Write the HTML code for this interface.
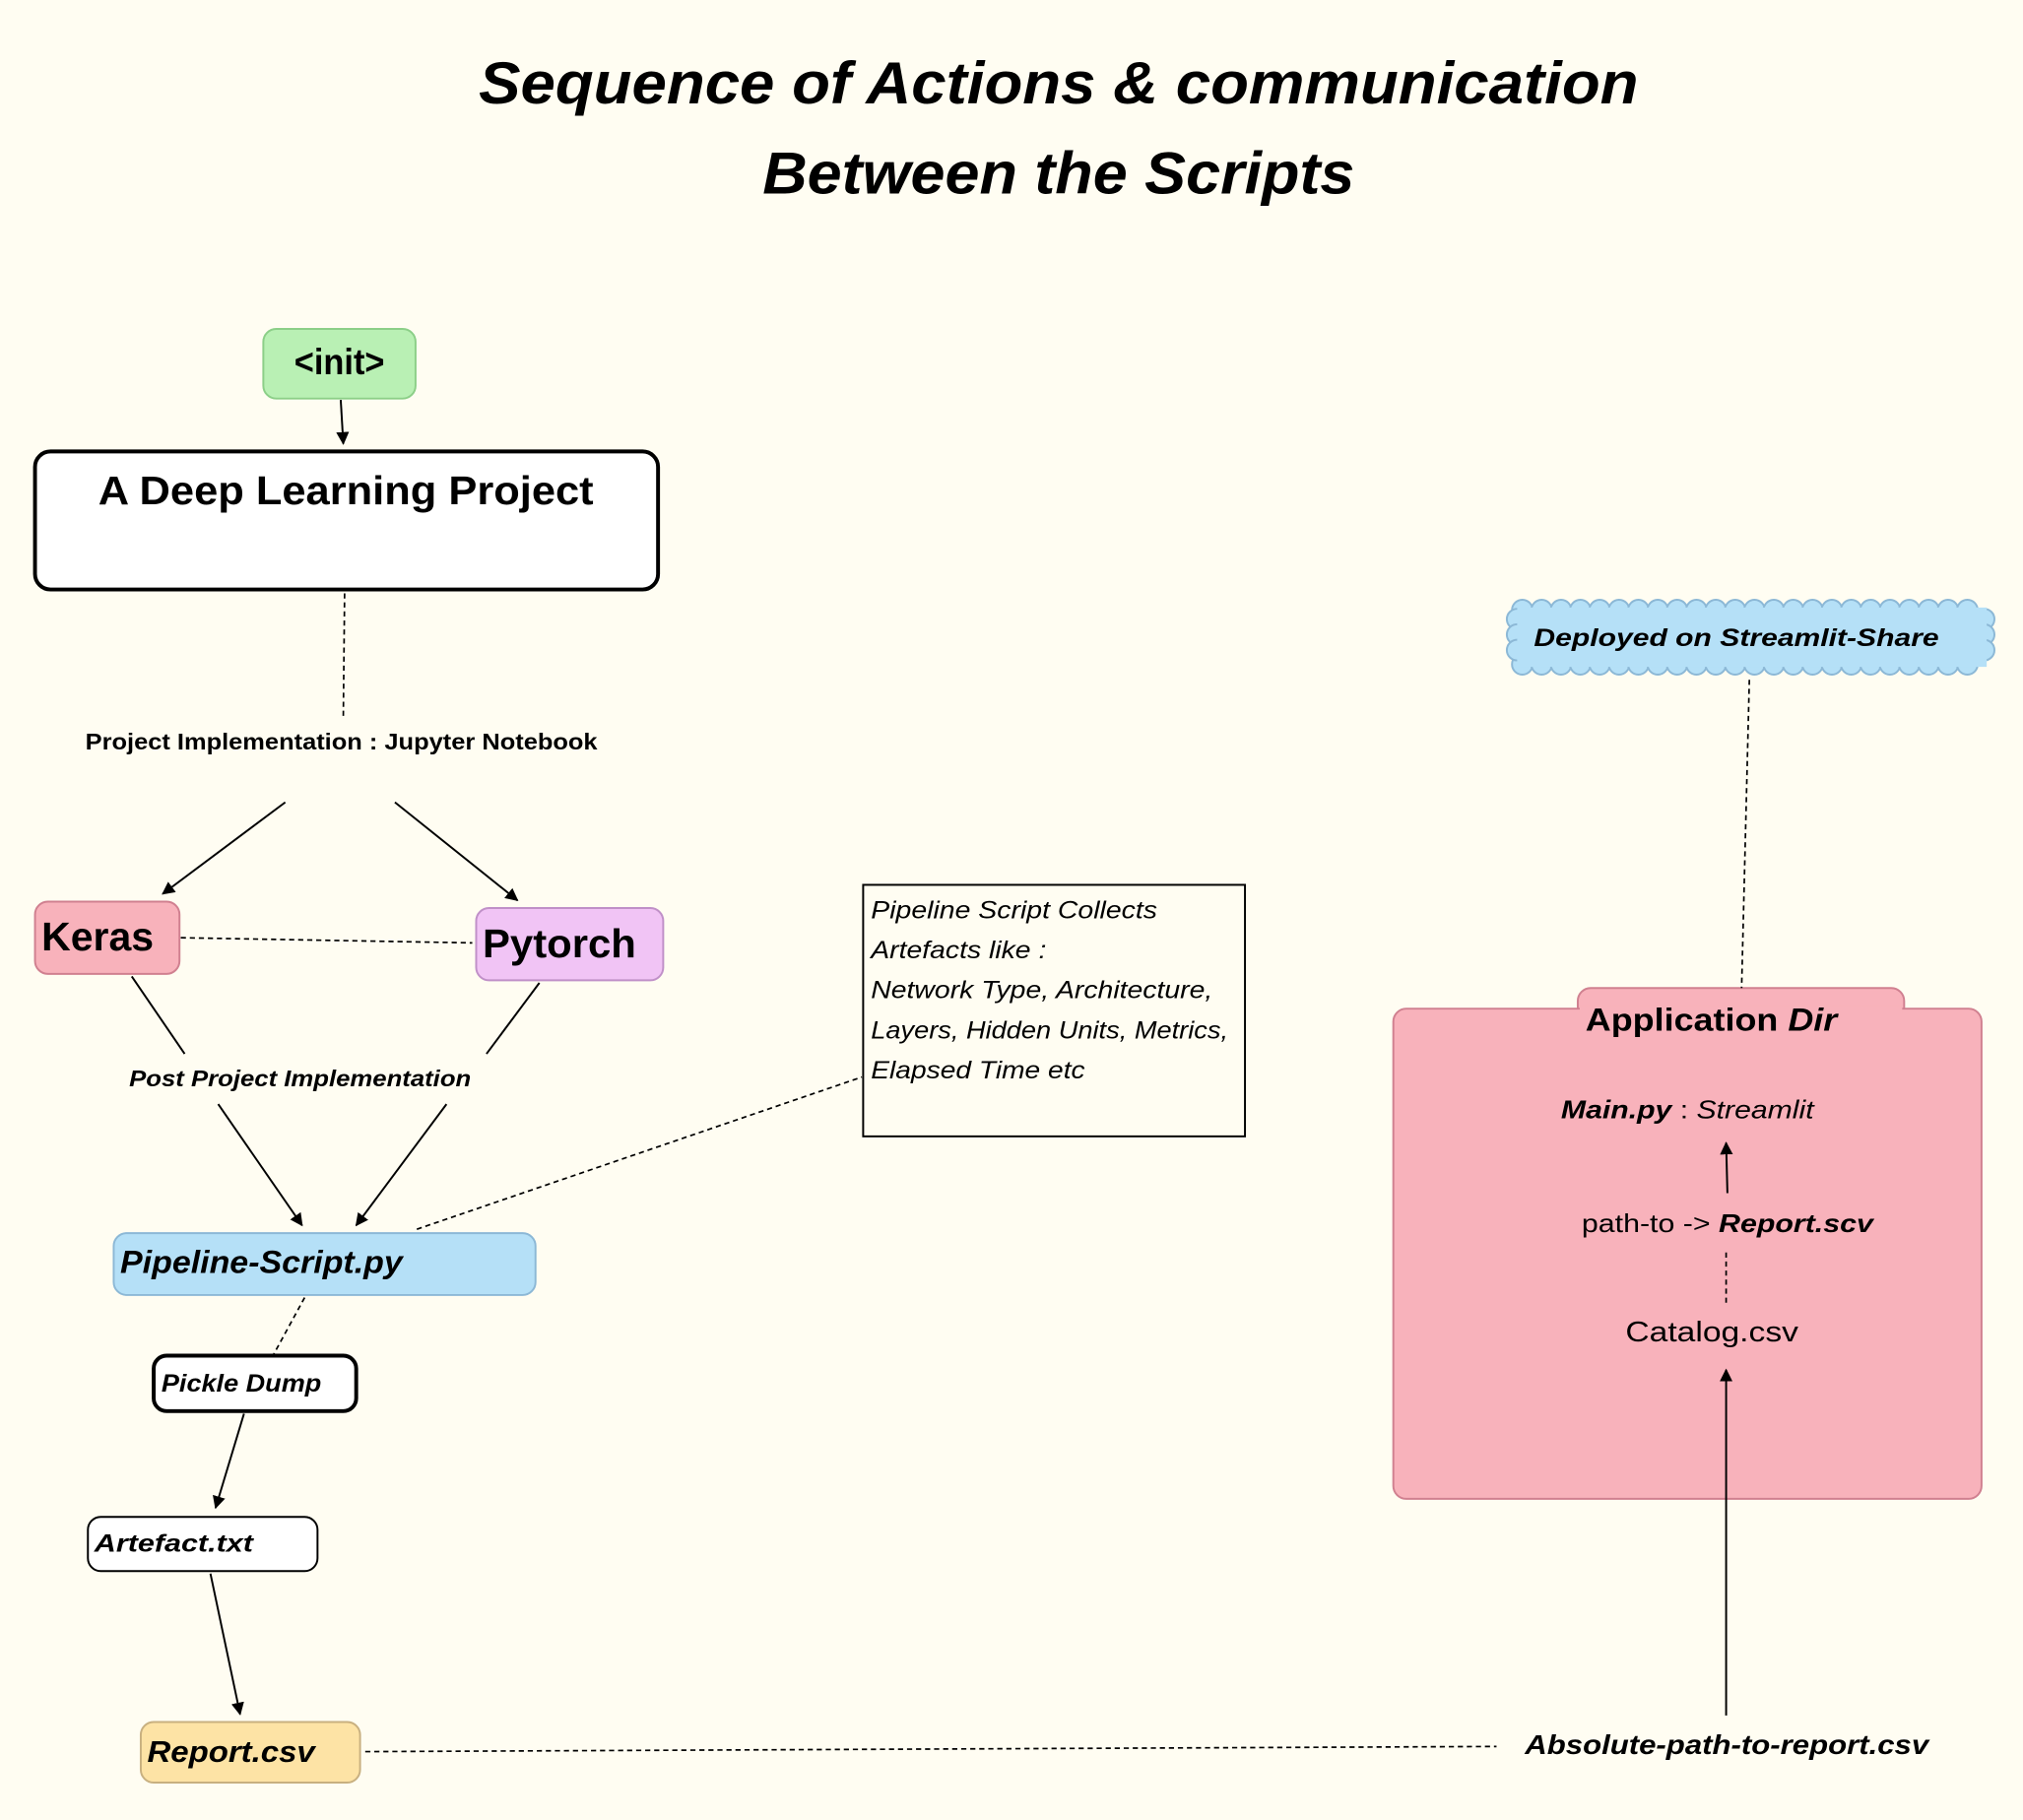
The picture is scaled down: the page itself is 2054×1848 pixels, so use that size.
<!DOCTYPE html>
<html><head><meta charset="utf-8"><style>
html,body{margin:0;padding:0;background:#fffdf2;}
svg{display:block}
text{font-family:"Liberation Sans",sans-serif;fill:#000}
.b{font-weight:bold}.i{font-style:italic}
</style></head><body>
<svg width="2054" height="1848" viewBox="0 0 1568 1411" xmlns="http://www.w3.org/2000/svg">
<defs><marker id="a" markerWidth="10" markerHeight="10" refX="9" refY="5" orient="auto" markerUnits="userSpaceOnUse"><path d="M0,0 L10,5 L0,10 z" fill="#000"/></marker></defs>
<rect width="1568" height="1411" fill="#fffdf2"/>
<text x="371" y="80" class="b i" font-size="46" textLength="899" lengthAdjust="spacingAndGlyphs">Sequence of Actions &amp; communication</text>
<text x="591" y="150" class="b i" font-size="46" textLength="459" lengthAdjust="spacingAndGlyphs">Between the Scripts</text>

<rect x="204" y="255" width="118" height="54" rx="10" fill="#b9f0b4" stroke="#8ccf88" stroke-width="1.5"/>
<text x="228" y="290" class="b" font-size="28" textLength="70" lengthAdjust="spacingAndGlyphs">&lt;init&gt;</text>
<line x1="264" y1="310" x2="266" y2="344" stroke="#000" stroke-width="1.5" marker-end="url(#a)"/>
<rect x="27" y="350" width="483" height="107" rx="12" fill="#fff" stroke="#000" stroke-width="3"/>
<text x="76" y="391" class="b" font-size="31" textLength="384" lengthAdjust="spacingAndGlyphs">A Deep Learning Project</text>
<line x1="267" y1="460" x2="266" y2="555" stroke="#000" stroke-width="1.3" stroke-dasharray="4,3"/>
<text x="66" y="581" class="b" font-size="17.5" textLength="397" lengthAdjust="spacingAndGlyphs">Project Implementation : Jupyter Notebook</text>
<line x1="221" y1="622" x2="126" y2="693" stroke="#000" stroke-width="1.5" marker-end="url(#a)"/>
<line x1="306" y1="622" x2="401" y2="698" stroke="#000" stroke-width="1.5" marker-end="url(#a)"/>
<rect x="27" y="699" width="112" height="56" rx="10" fill="#f8b2bb" stroke="#d08090" stroke-width="1.5"/>
<text x="32" y="737" class="b" font-size="31" textLength="87" lengthAdjust="spacingAndGlyphs">Keras</text>
<rect x="369" y="704" width="145" height="56" rx="10" fill="#f1c4f5" stroke="#c090c8" stroke-width="1.5"/>
<text x="374" y="742" class="b" font-size="31" textLength="119" lengthAdjust="spacingAndGlyphs">Pytorch</text>
<line x1="140" y1="727" x2="366" y2="731" stroke="#000" stroke-width="1.3" stroke-dasharray="4,3"/>
<line x1="102" y1="757" x2="143" y2="817" stroke="#000" stroke-width="1.5"/>
<line x1="418" y1="762" x2="377" y2="817" stroke="#000" stroke-width="1.5"/>
<text x="100" y="842" class="b i" font-size="17.5" textLength="265" lengthAdjust="spacingAndGlyphs">Post Project Implementation</text>
<line x1="169" y1="856" x2="234" y2="950" stroke="#000" stroke-width="1.5" marker-end="url(#a)"/>
<line x1="346" y1="856" x2="276" y2="950" stroke="#000" stroke-width="1.5" marker-end="url(#a)"/>
<rect x="88" y="956" width="327" height="48" rx="10" fill="#b5e0f7" stroke="#8cb8d6" stroke-width="1.5"/>
<text x="93" y="987" class="b i" font-size="25" textLength="219" lengthAdjust="spacingAndGlyphs">Pipeline-Script.py</text>
<line x1="323" y1="953" x2="668" y2="835" stroke="#000" stroke-width="1.3" stroke-dasharray="4,3"/>
<rect x="669" y="686" width="296" height="195" fill="#fffdf2" stroke="#000" stroke-width="1.5"/>
<g font-size="19">
<text x="675" y="712" class="i" textLength="222" lengthAdjust="spacingAndGlyphs">Pipeline Script Collects</text>
<text x="675" y="743" class="i" textLength="136" lengthAdjust="spacingAndGlyphs">Artefacts like :</text>
<text x="675" y="774" class="i" textLength="265" lengthAdjust="spacingAndGlyphs">Network Type, Architecture,</text>
<text x="675" y="805" class="i" textLength="277" lengthAdjust="spacingAndGlyphs">Layers, Hidden Units, Metrics,</text>
<text x="675" y="836" class="i" textLength="166" lengthAdjust="spacingAndGlyphs">Elapsed Time etc</text>
</g>
<line x1="236" y1="1006" x2="212" y2="1050" stroke="#000" stroke-width="1.3" stroke-dasharray="4,3"/>
<rect x="119" y="1051" width="157" height="43" rx="10" fill="#fff" stroke="#000" stroke-width="3"/>
<text x="125" y="1079" class="b i" font-size="19" textLength="124" lengthAdjust="spacingAndGlyphs">Pickle Dump</text>
<line x1="189" y1="1096" x2="167" y2="1169" stroke="#000" stroke-width="1.5" marker-end="url(#a)"/>
<rect x="68" y="1176" width="178" height="42" rx="10" fill="#fff" stroke="#000" stroke-width="1.5"/>
<text x="73" y="1203" class="b i" font-size="19" textLength="123" lengthAdjust="spacingAndGlyphs">Artefact.txt</text>
<line x1="163" y1="1220" x2="186" y2="1329" stroke="#000" stroke-width="1.5" marker-end="url(#a)"/>
<rect x="109" y="1335" width="170" height="47" rx="10" fill="#fde3a5" stroke="#c8b080" stroke-width="1.5"/>
<text x="114" y="1366" class="b i" font-size="23" textLength="130" lengthAdjust="spacingAndGlyphs">Report.csv</text>
<line x1="283" y1="1358" x2="1160" y2="1354" stroke="#000" stroke-width="1.3" stroke-dasharray="4,3"/>

<rect x="1223" y="766" width="253" height="40" rx="10" fill="#f8b2bb" stroke="#d08090" stroke-width="1.5"/>
<rect x="1080" y="782" width="456" height="380" rx="10" fill="#f8b2bb" stroke="#d08090" stroke-width="1.5"/>
<rect x="1224.5" y="780" width="250" height="6" fill="#f8b2bb"/>
<text x="1229" y="799" class="b" font-size="25" textLength="195" lengthAdjust="spacingAndGlyphs">Application <tspan class="i">Dir</tspan></text>
<text x="1210" y="867" font-size="20" textLength="196" lengthAdjust="spacingAndGlyphs"><tspan class="b i">Main.py</tspan> : <tspan class="i">Streamlit</tspan></text>
<line x1="1339" y1="925" x2="1338" y2="886" stroke="#000" stroke-width="1.5" marker-end="url(#a)"/>
<text x="1226" y="955" font-size="20" textLength="226" lengthAdjust="spacingAndGlyphs">path-to -&gt; <tspan class="b i">Report.scv</tspan></text>
<line x1="1338" y1="1010" x2="1338" y2="970" stroke="#000" stroke-width="1.3" stroke-dasharray="4,3"/>
<text x="1260" y="1040" font-size="22" textLength="134" lengthAdjust="spacingAndGlyphs">Catalog.csv</text>
<line x1="1338" y1="1330" x2="1338" y2="1062" stroke="#000" stroke-width="1.5" marker-end="url(#a)"/>
<text x="1182" y="1360" class="b i" font-size="21" textLength="313" lengthAdjust="spacingAndGlyphs">Absolute-path-to-report.csv</text>

<g id="cloud" fill="#b5e0f7" stroke="#8cb8d6" stroke-width="1.5"></g>
<rect x="1176" y="471" width="364" height="46" fill="#b5e0f7"/>
<text x="1189" y="501" class="b i" font-size="19" textLength="314" lengthAdjust="spacingAndGlyphs">Deployed on Streamlit-Share</text>
<line x1="1356" y1="527" x2="1350" y2="766" stroke="#000" stroke-width="1.3" stroke-dasharray="4,3"/>
</svg>
<script>
var g=document.getElementById('cloud'),s='';
for(var x=1180;x<=1536;x+=15){s+='<circle cx="'+x+'" cy="473" r="8"/><circle cx="'+x+'" cy="515" r="8"/>';}
for(var y=480;y<=510;y+=12){s+='<circle cx="1176" cy="'+y+'" r="8"/><circle cx="1538" cy="'+y+'" r="8"/>';}
g.innerHTML=s;
</script>
</body></html>
